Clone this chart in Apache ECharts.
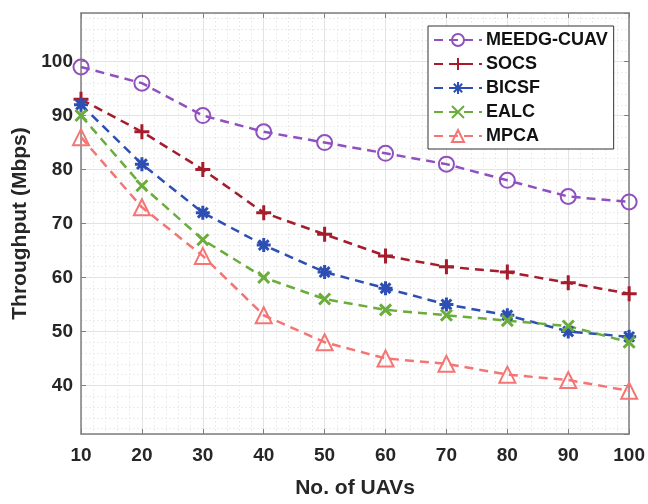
<!DOCTYPE html>
<html>
<head>
<meta charset="utf-8">
<script src="https://cdn.jsdelivr.net/npm/echarts@6.0.0/dist/echarts.min.js"></script>
<style>
    html, body { margin: 0; padding: 0; background: #fff; }
    #main { width: 648px; height: 504px; }
</style>
</head>
<body>
<div id="main"></div>
<script>
// data
var uavs = [10, 20, 30, 40, 50, 60, 70, 80, 90, 100];
var meedg = [99, 96, 90, 87, 85, 83, 81, 78, 75, 74];
var socs  = [93, 87, 80, 72, 68, 64, 62, 61, 59, 57];
var bicsf = [92, 81, 72, 66, 61, 58, 55, 53, 50, 49];
var ealc  = [90, 77, 67, 60, 56, 54, 53, 52, 51, 48];
var mpca  = [86, 73, 64, 53, 48, 45, 44, 42, 41, 39];
var seriesNames = ['MEEDG-CUAV', 'SOCS', 'BICSF', 'EALC', 'MPCA'];

var font = '"Liberation Sans", Arial, sans-serif';
var axisGray = '#7f7f7f';

function pairs(vals) {
    var out = [];
    for (var i = 0; i < uavs.length; i++) {
        out.push([uavs[i], vals[i]]);
    }
    return out;
}

// one dashed line series, marker style passed in
function makeLine(name, vals, color, symbol, size, hollow, bw) {
    return {
        name: name,
        type: 'line',
        data: pairs(vals),
        symbol: symbol,
        symbolSize: size,
        showAllSymbol: true,
        lineStyle: {
            color: color,
            width: 2.5,
            type: [9, 6]
        },
        itemStyle: {
            color: hollow ? 'rgba(255,255,255,0)' : color,
            borderColor: color,
            borderWidth: bw
        },
        emphasis: { disabled: true },
        z: 3
    };
}

var chart = echarts.init(document.getElementById('main'));

var plusPath = 'path://M0,-5L0,5M-5,0L5,0';
var crossPath = 'path://M-5,-5L5,5M-5,5L5,-5';
var starPath = 'path://M0,-5L0,5M-5,0L5,0M-3.5,-3.5L3.5,3.5M-3.5,3.5L3.5,-3.5';

var option = {
    animation: false,
    backgroundColor: '#fff',
    textStyle: { fontFamily: font },
    grid: {
        left: 81,
        right: 17,
        top: 13,
        bottom: 63,
        containLabel: false
    },
    legend: {
        data: seriesNames,
        orient: 'vertical',
        left: 428,
        top: 26,
        padding: [5, 6, 4, 5],
        itemWidth: 48,
        itemHeight: 15,
        itemGap: 6,
        backgroundColor: '#fff',
        borderColor: '#333',
        borderWidth: 1,
        textStyle: {
            fontFamily: font,
            fontWeight: 'bold',
            fontSize: 18,
            color: '#111',
            padding: [0, 0, 0, -1]
        }
    },
    xAxis: [{
        type: 'value',
        min: 10,
        max: 100,
        interval: 10,
        name: 'No. of UAVs',
        nameLocation: 'middle',
        nameGap: 44,
        nameTextStyle: { fontFamily: font, fontWeight: 'bold', fontSize: 21, color: '#262626' },
        axisLine: { show: true, lineStyle: { color: axisGray, width: 1.5 } },
        axisTick: { show: true, inside: true, length: 5, lineStyle: { color: axisGray } },
        axisLabel: { fontFamily: font, fontWeight: 'bold', fontSize: 19, color: '#262626', margin: 12 },
        splitLine: { show: true, lineStyle: { color: '#e3e3e3', width: 1 } },
        minorTick: { show: false, splitNumber: 5 },
        minorSplitLine: { show: true, lineStyle: { color: '#ececec', width: 1, type: [2, 2] } }
    }, {
        type: 'value',
        position: 'top',
        min: 10,
        max: 100,
        interval: 10,
        axisLine: { show: true, lineStyle: { color: axisGray, width: 1.5 } },
        axisTick: { show: true, inside: true, length: 5, lineStyle: { color: axisGray } },
        axisLabel: { show: false },
        splitLine: { show: false }
    }],
    yAxis: [{
        type: 'value',
        min: 31,
        max: 109,
        splitNumber: 8,
        name: 'Throughput (Mbps)',
        nameLocation: 'middle',
        nameGap: 50,
        nameTextStyle: { fontFamily: font, fontWeight: 'bold', fontSize: 21, color: '#262626' },
        axisLine: { show: true, lineStyle: { color: axisGray, width: 1.5 } },
        axisTick: { show: true, inside: true, length: 5, lineStyle: { color: axisGray } },
        axisLabel: {
            fontFamily: font, fontWeight: 'bold', fontSize: 19, color: '#262626', margin: 8,
            showMinLabel: false, showMaxLabel: false
        },
        splitLine: { show: true, lineStyle: { color: '#e3e3e3', width: 1 } },
        minorTick: { show: false, splitNumber: 5 },
        minorSplitLine: { show: true, lineStyle: { color: '#ececec', width: 1, type: [2, 2] } }
    }, {
        type: 'value',
        position: 'right',
        min: 31,
        max: 109,
        splitNumber: 8,
        axisLine: { show: true, lineStyle: { color: axisGray, width: 1.5 } },
        axisTick: { show: true, inside: true, length: 5, lineStyle: { color: axisGray } },
        axisLabel: { show: false },
        splitLine: { show: false }
    }],
    series: [
        makeLine('MEEDG-CUAV', meedg, '#9050c0', 'circle', 15, true, 2),
        makeLine('SOCS', socs, '#a51c2c', plusPath, 15, false, 3),
        makeLine('BICSF', bicsf, '#2d4fb4', starPath, 14, false, 3),
        makeLine('EALC', ealc, '#6aad3a', crossPath, 11, false, 3),
        makeLine('MPCA', mpca, '#f57474', 'triangle', 16, true, 2)
    ]
};
chart.setOption(option);
</script>
</body>
</html>
